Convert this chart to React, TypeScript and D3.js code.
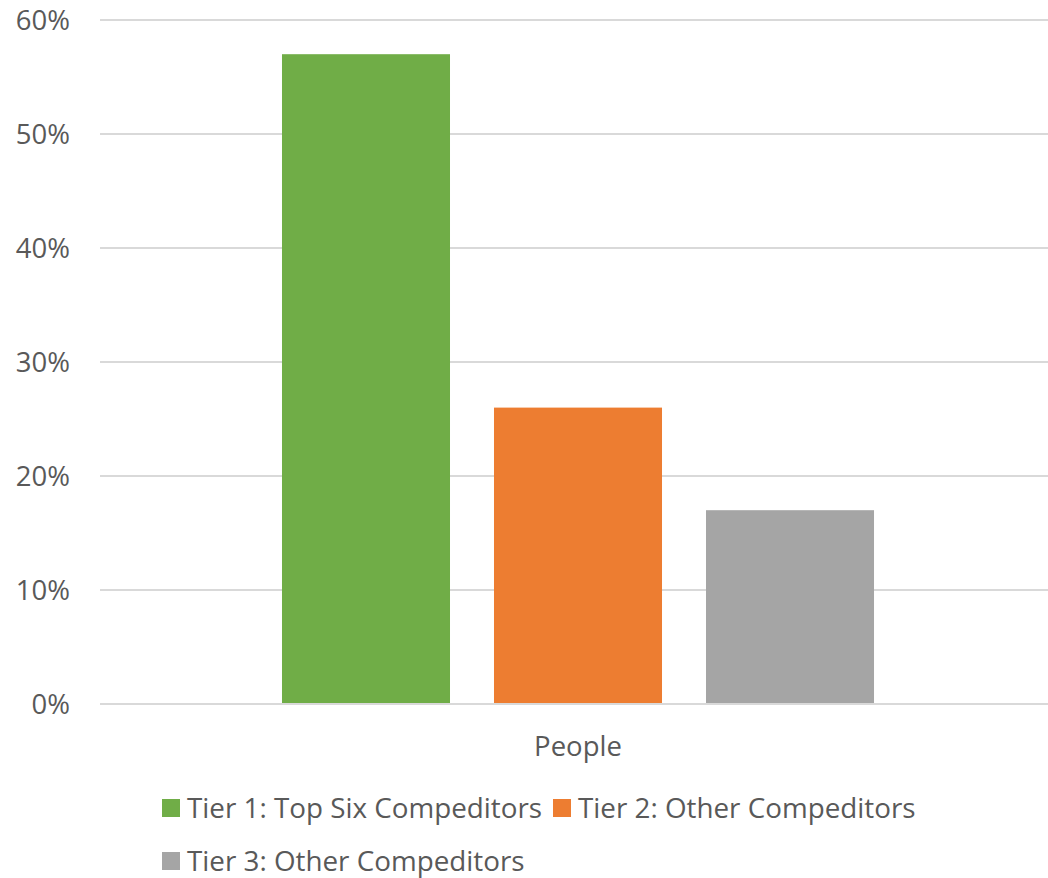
import React from "react";
import * as d3 from "d3";

const categories = ["People"];
const seriesNames = ["Tier 1: Top Six Compeditors", "Tier 2: Other Compeditors", "Tier 3: Other Compeditors"];
const seriesValues = [0.57, 0.26, 0.17];
const seriesColors = ["#70AD47", "#ED7D31", "#A5A5A5"];
const yTicks = [0, 0.1, 0.2, 0.3, 0.4, 0.5, 0.6];

const W = 1048, H = 878;
const FONT = "'Open Sans', sans-serif";

export default function App() {
  const y = d3.scaleLinear().domain([0, 0.6]).range([704, 20]);
  const x0 = d3.scaleBand().domain(categories).range([100, 1056]).paddingInner(0).paddingOuter(0.3074);
  const x1 = d3.scaleBand().domain(seriesNames).range([0, x0.bandwidth()]).paddingInner(0.2075);
  const fmt = d3.format(".0%");
  const legend = [
    { x: 162, y: 808 },
    { x: 553, y: 808 },
    { x: 162, y: 861 },
  ];
  return (
    <svg width={W} height={H} style={{ position: "absolute", left: 0, top: 0, background: "#fff" }}>
      {yTicks.map((t) => (
        <g key={t}>
          <line x1={100} x2={W} y1={y(t)} y2={y(t)} stroke="#D9D9D9" strokeWidth={2} />
          <text x={70} y={y(t)} dy="0.35em" textAnchor="end" fontFamily={FONT} fontSize={27.5} fill="#595959">
            {fmt(t)}
          </text>
        </g>
      ))}
      {categories.map((c) => (
        <g key={c} transform={`translate(${x0(c)},0)`}>
          {seriesNames.map((s, i) => (
            <rect key={s} x={x1(s)} width={x1.bandwidth()} y={y(seriesValues[i])} height={y(0) - y(seriesValues[i])} fill={seriesColors[i]} />
          ))}
          <text x={x0.bandwidth() / 2} y={746} dy="0.35em" textAnchor="middle" fontFamily={FONT} fontSize={27.5} fill="#595959">
            {c}
          </text>
        </g>
      ))}
      <line x1={100} x2={W} y1={y(0)} y2={y(0)} stroke="#D9D9D9" strokeWidth={2} />
      {seriesNames.map((s, i) => (
        <g key={s} transform={`translate(${legend[i].x},${legend[i].y})`}>
          <rect x={0} y={-9} width={18} height={18} fill={seriesColors[i]} />
          <text x={25} y={0} dy="0.35em" fontFamily={FONT} fontSize={27.8} fill="#595959">
            {s}
          </text>
        </g>
      ))}
    </svg>
  );
}
